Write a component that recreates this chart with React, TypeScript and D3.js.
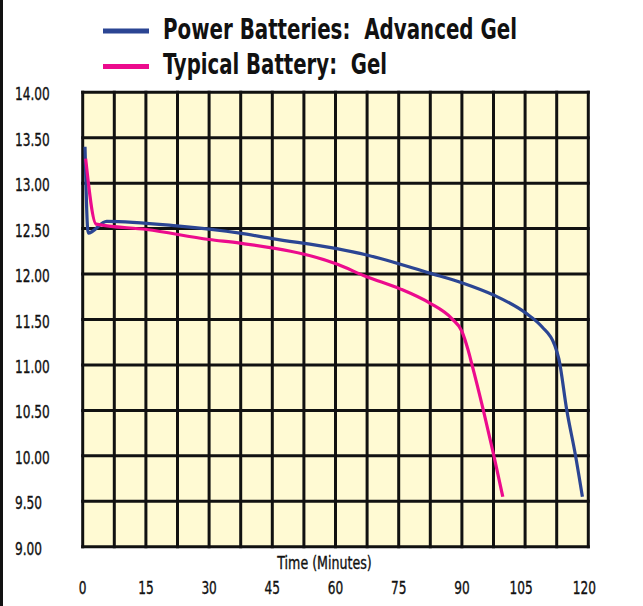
import React from 'react';
import * as d3 from 'd3';

// time in minutes, voltage
const advancedGelTime = [0.55, 1.3, 5.7, 22.3, 37.3, 45, 60.3, 67.4, 82.4, 90.3, 97.5, 105.2, 109, 112, 113, 114.9, 116.9, 118.6];
const advancedGelVolts = [13.4, 12.45, 12.58, 12.53, 12.45, 12.39, 12.28, 12.21, 12.01, 11.9, 11.77, 11.57, 11.42, 11.22, 11.07, 10.5, 10.02, 9.55];

const typicalGelTime = [0.7, 3.2, 15.2, 30, 37.3, 60.3, 67.4, 75.2, 82.4, 87.6, 90, 91.5, 92.3, 95.1, 97.5, 99.7];
const typicalGelVolts = [13.27, 12.55, 12.49, 12.38, 12.34, 12.11, 11.97, 11.84, 11.68, 11.51, 11.37, 11.16, 11.02, 10.5, 10.02, 9.55];

const xTicks = [0, 15, 30, 45, 60, 75, 90, 105, 120];
const yTicks = [14, 13.5, 13, 12.5, 12, 11.5, 11, 10.5, 10, 9.5, 9];

const seriesNames = ['Power Batteries:  Advanced Gel', 'Typical Battery:  Gel'];
const seriesColors = ['#2b4593', '#ec0b8d'];

const W = 643;
const H = 606;
const plot = { left: 82.7, right: 588.3, top: 92.3, bottom: 546.7 };
const font = '"DejaVu Sans Condensed", "DejaVu Sans", sans-serif';

// condensed label: squeeze horizontally around its anchor
function Narrow({ x, y, sx = 0.75, anchor = 'start', size = 18, children }: any) {
  return (
    <text
      transform={`translate(${x},${y}) scale(${sx},1)`}
      fontSize={size}
      fill="#111"
      stroke="#111"
      strokeWidth={0.35}
      textAnchor={anchor}
    >
      {children}
    </text>
  );
}

export default function App() {
  const x = d3.scaleLinear().domain([0, 120]).range([plot.left, plot.right]);
  const y = d3.scaleLinear().domain([9, 14]).range([plot.bottom, plot.top]);

  const line = d3
    .line<[number, number]>()
    .x((d) => x(d[0]))
    .y((d) => y(d[1]))
    .curve(d3.curveMonotoneX);

  const series = [
    advancedGelTime.map((t, i) => [t, advancedGelVolts[i]] as [number, number]),
    typicalGelTime.map((t, i) => [t, typicalGelVolts[i]] as [number, number]),
  ];

  // vertical grid every 7.5 minutes
  const vGrid = d3.range(0, 120.001, 7.5);

  return (
    <svg
      width={W}
      height={H}
      style={{ position: 'absolute', left: 0, top: 0, background: '#fff' }}
      fontFamily={font}
    >
      {/* left frame */}
      <line x1={1.5} x2={1.5} y1={0} y2={H} stroke="#111" strokeWidth={3} />

      {/* legend */}
      {seriesNames.map((name, i) => (
        <g key={name} transform={`translate(0, ${31 + i * 35.5})`}>
          <line x1={103} x2={149} y1={0} y2={0} stroke={seriesColors[i]} strokeWidth={5} />
          <text
            x={163}
            y={7.5}
            fontSize={29}
            fontWeight="bold"
            fill="#111"
            textLength={i === 0 ? 354 : 224}
            lengthAdjust="spacingAndGlyphs"
            style={{ whiteSpace: 'pre' }}
          >
            {name}
          </text>
        </g>
      ))}

      {/* plot background */}
      <rect
        x={plot.left}
        y={plot.top}
        width={plot.right - plot.left}
        height={plot.bottom - plot.top}
        fill="#fffad3"
      />

      {/* grid */}
      {vGrid.map((t) => (
        <line key={'v' + t} x1={x(t)} x2={x(t)} y1={plot.top - 1.5} y2={plot.bottom + 1.5} stroke="#111" strokeWidth={3} />
      ))}
      {yTicks.map((v) => (
        <line key={'h' + v} x1={plot.left - 1.5} x2={plot.right + 1.5} y1={y(v)} y2={y(v)} stroke="#111" strokeWidth={3} />
      ))}

      {/* series */}
      {series.map((pts, i) => (
        <path
          key={i}
          d={line(pts) || ''}
          fill="none"
          stroke={seriesColors[i]}
          strokeWidth={3.2}
          strokeLinejoin="round"
        />
      ))}

      {/* y axis labels */}
      {yTicks.map((v) => (
        <Narrow key={'yl' + v} x={15} y={y(v) + 8}>
          {v.toFixed(2)}
        </Narrow>
      ))}

      {/* x axis labels */}
      {xTicks.map((t) => (
        <Narrow key={'xl' + t} x={x(t) - (t >= 105 ? 4 : 0)} y={594} anchor="middle">
          {t}
        </Narrow>
      ))}

      <Narrow x={324.5} y={569} anchor="middle" sx={0.78}>
        Time (Minutes)
      </Narrow>
    </svg>
  );
}
